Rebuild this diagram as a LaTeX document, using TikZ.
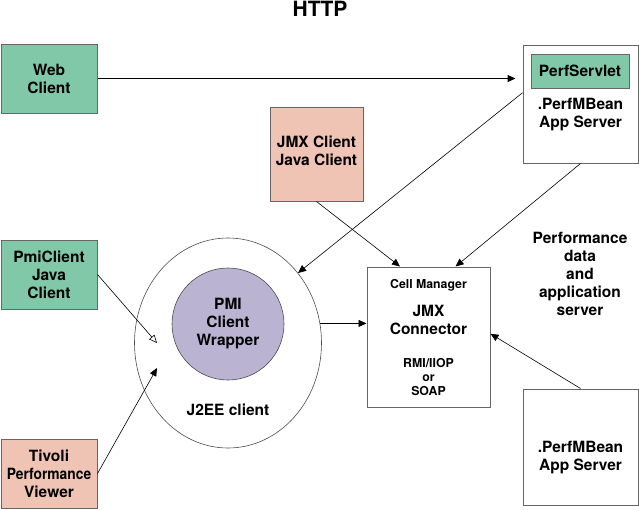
\documentclass[tikz,border=0pt]{standalone}
\usepackage{fontspec}
\usepackage{graphicx}
\setmainfont{TeX Gyre Heros}
\usetikzlibrary{arrows.meta,shapes.geometric}
\definecolor{clientgreen}{RGB}{128,200,168}
\definecolor{clientpink}{RGB}{240,196,180}
\definecolor{wrapperblue}{RGB}{186,180,210}
\begin{document}
\begin{tikzpicture}[x=1pt,y=-1pt,
  box/.style={draw=black!60,line width=1pt,minimum width=96pt,minimum height=69pt,
    inner sep=0pt,align=center,font=\bfseries\fontsize{15.5}{18}\selectfont},
  srvbox/.style={draw=black!60,line width=1pt,minimum width=115pt,inner sep=0pt},
  txt/.style={align=center,inner sep=0pt,font=\bfseries\fontsize{15.5}{18}\selectfont},
  smalltxt/.style={align=center,inner sep=0pt,font=\bfseries\fontsize{12.3}{14}\selectfont},
  link/.style={line width=.6pt,-{Triangle[length=8pt,width=7pt]}}]
\useasboundingbox (0,0) rectangle (639,509);
% clients
\node[box,fill=clientgreen] (web) at (49,78.5) {Web\\Client};
\node[box,fill=clientgreen] (pmi) at (49,274.5) {PmiClient\\Java\\Client};
\node[box,fill=clientpink] (tivoli) at (49,473.5) {Tivoli\\\scalebox{.89}[1]{Performance}\\Viewer};
\node[box,fill=clientpink,minimum width=93pt,minimum height=94pt] (jmx) at (316.5,154) {};
\node[txt] (jmxtxt) at (316.5,151) {JMX Client\\Java Client};
% servers
\node[srvbox,minimum height=118pt] (appA) at (580.5,104) {};
\node[box,fill=clientgreen,minimum width=98pt,minimum height=34pt] (servlet) at (580,71) {PerfServlet};
\node[txt] (appAtxt) at (580.5,115) {.PerfMBean\\App Server};
\node[srvbox,minimum height=116pt] (appB) at (580.5,447) {};
\node[txt] (appBtxt) at (580.5,458) {.PerfMBean\\App Server};
\node[draw=black!60,line width=1pt,minimum width=123pt,minimum height=140pt] (cell) at (428.5,337) {};
\node[smalltxt] (cellhead) at (428.5,285) {Cell Manager};
\node[txt] (conn) at (428.5,320) {JMX\\Connector};
\node[smalltxt] (proto) at (428.5,377) {RMI/IIOP\\or\\SOAP};
% J2EE client
\node[draw=black!70,line width=.6pt,ellipse,minimum width=187pt,minimum height=210pt] (j2ee) at (228,343) {};
\node[draw=black!70,line width=.6pt,fill=wrapperblue,circle,minimum size=112pt,txt] (wrap) at (228,324) {PMI\\Client\\Wrapper};
\node[txt] (j2eetxt) at (228,410) {J2EE client};
\coordinate (pmiend) at (157,343);
\coordinate (tivend) at (157,368);
% labels
\node[txt,font=\bfseries\fontsize{21}{24}\selectfont] (http) at (320,9) {HTTP};
\node[txt] (perf) at (580,274) {Performance\\data\\and\\application\\server};
% connectors
\draw[link,line width=1pt,shorten >=7pt] (web.east) -- (web.east -| appA.west);
\draw[link] (appA.169) -- (j2ee.45);
\draw[link] (appA.south) -- (cell.69);
\draw[link] (jmx.south) -- (cell.112);
\draw[link] (j2ee.12) -- (j2ee.12 -| cell.west);
\draw[line width=.6pt,-{Triangle[open,length=8pt,width=7pt]}] (pmi.east) -- (pmiend);
\draw[link] (tivoli.east) -- (tivend);
\draw[link] (appB.north) -- (cell.3);
\end{tikzpicture}
\end{document}
